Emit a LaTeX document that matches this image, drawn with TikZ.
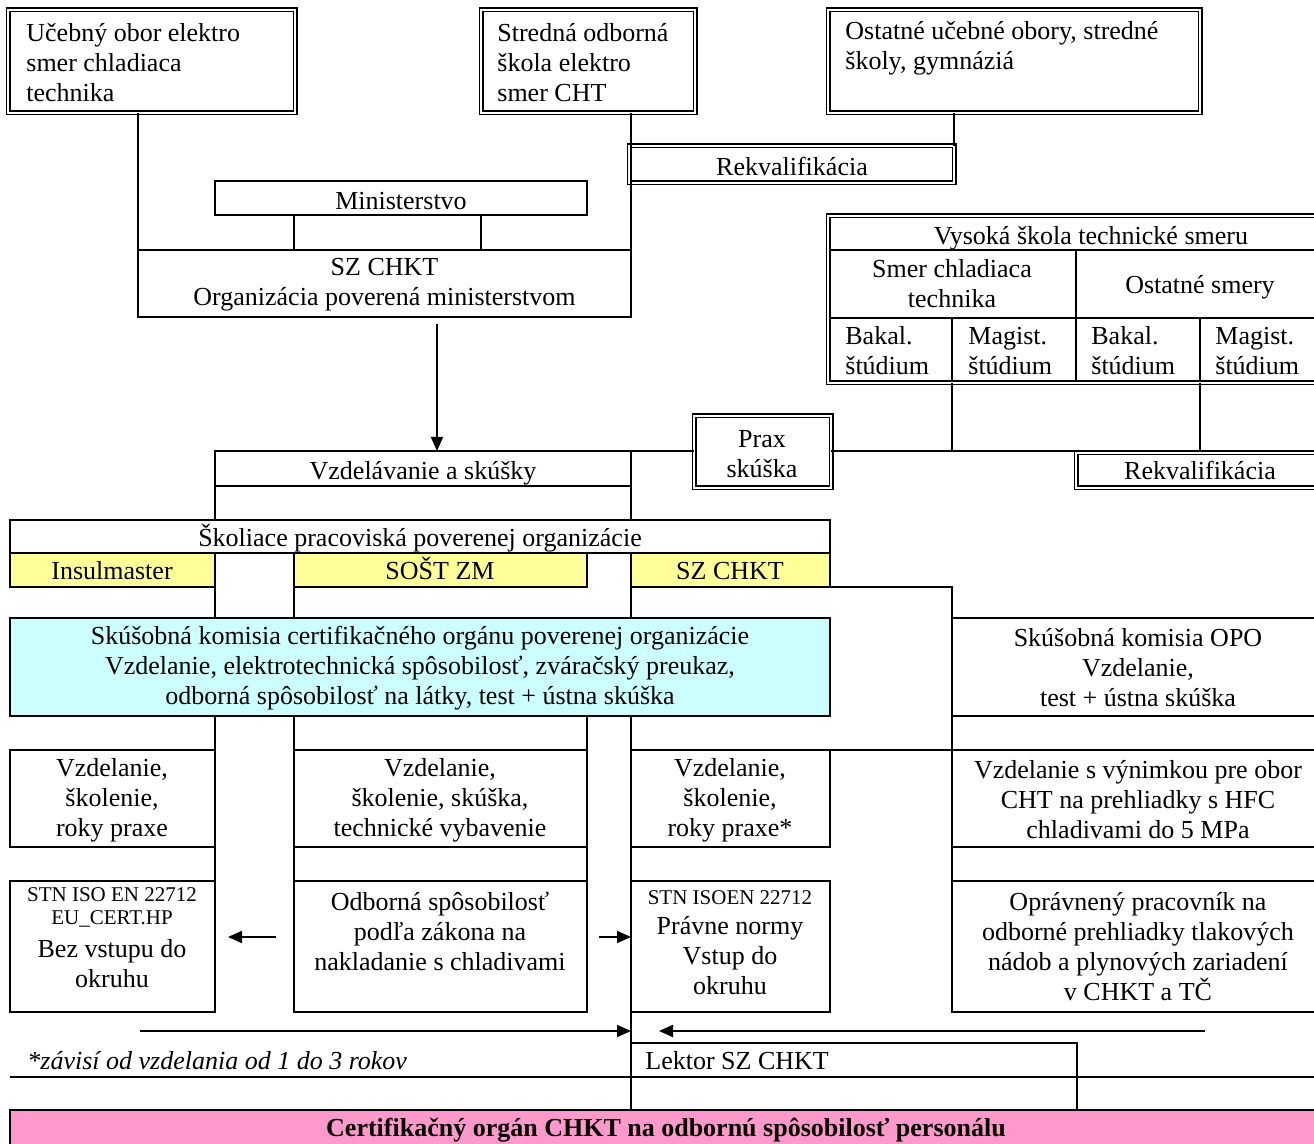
\documentclass[tikz,border=0pt]{standalone}
\usepackage{fontspec}
\setmainfont{Liberation Serif}
\usetikzlibrary{arrows.meta,calc}
\definecolor{ylw}{RGB}{255,255,153}
\definecolor{cyn}{RGB}{204,255,255}
\definecolor{pnk}{RGB}{255,153,204}
\newcommand\bx[6][]{\node[box,#1,minimum width={(#5-#3)*0.5pt},minimum height={(#6-#4)*0.5pt}] (#2) at ({(#3+#5)/2},{(#4+#6)/2}) {};}
\tikzset{
  box/.style={draw, line width=0.9pt, inner sep=0pt, outer sep=0pt},
  dbl/.style={double=white, line width=0.8pt, double distance=0.9pt},
  txt/.style={inner sep=0pt, font=\fontsize{13}{15}\selectfont, align=center},
  sml/.style={inner sep=0pt, font=\fontsize{10.5}{11.5}\selectfont, align=center},
  ln/.style={text height=10.5pt, text depth=0.8pt},
  conn/.style={line width=0.9pt},
  arr/.style={line width=1pt, -{Triangle[length=7pt,width=6pt]}},
}
\begin{document}
\begin{tikzpicture}[x=0.5pt,y=-0.5pt]
\useasboundingbox (0,0) rectangle (1314,1144);
\clip (0,0) rectangle (1314,1144);
\fill[white] (0,0) rectangle (1314,1144);

% top row
\bx[dbl]{b1}{8}{10}{295}{113}
\node[txt,align=left,anchor=west] (t1) at (26,63) {Učebný obor elektro\\smer chladiaca\\technika};
\bx[dbl]{b2}{481}{10}{695}{113}
\node[txt,align=left,anchor=west] (t2) at (497,63) {Stredná odborná\\škola elektro\\smer CHT};
\bx[dbl]{b3}{828}{10}{1200}{113}
\node[txt,align=left,anchor=west] (t3) at (845,48) {Ostatné učebné obory, stredné\\školy, gymnáziá};

\bx[dbl]{rek1}{629}{146}{954}{183}
\node[txt,ln] (t4) at (792,166) {Rekvalifikácia};
\bx{min}{215}{181}{587}{215}
\node[txt,ln] (t5) at (401,200) {Ministerstvo};
\bx{sz}{138}{250}{631}{317}
\node[txt] (t6) at (384.5,285) {SZ CHKT\\Organizácia poverená ministerstvom};

% university table
\bx{vt}{828}{216}{1324}{250}
\bx{vsc}{828}{250}{1076}{318}
\bx{vos}{1076}{250}{1324}{318}
\bx{c1}{828}{318}{952}{383}
\bx{c2}{952}{318}{1076}{383}
\bx{c3}{1076}{318}{1200}{383}
\bx{c4}{1200}{318}{1324}{383}
\bx[dbl]{vs}{828}{216}{1324}{383}
\node[txt,ln] (t7) at (1091,235) {Vysoká škola technické smeru};
\node[txt] (t8) at (952,284) {Smer chladiaca\\technika};
\node[txt,ln] (t9) at (1200,284) {Ostatné smery};
\node[txt,align=left,anchor=west] (t10) at (845,351) {Bakal.\\štúdium};
\node[txt,align=left,anchor=west] (t11) at (968,351) {Magist.\\štúdium};
\node[txt,align=left,anchor=west] (t12) at (1091,351) {Bakal.\\štúdium};
\node[txt,align=left,anchor=west] (t13) at (1215,351) {Magist.\\štúdium};

% middle
\bx{vzd}{215}{451}{631}{486}
\node[txt,ln] (t14) at (423,470) {Vzdelávanie a skúšky};
\bx[dbl]{prax}{694}{416}{831}{488}
\node[txt] (t15) at (762,454) {Prax\\skúška};
\bx[dbl]{rek2}{1076}{453}{1324}{488}
\node[txt,ln] (t16) at (1200,470) {Rekvalifikácia};

\bx{sk}{10}{520}{830}{553}
\node[txt,ln] (t17) at (420,537) {Školiace pracoviská poverenej organizácie};
\bx[fill=ylw]{ins}{10}{553}{215}{587}
\node[txt,ln] (t18) at (112,570) {Insulmaster};
\bx[fill=ylw]{sost}{294}{553}{587}{587}
\node[txt,ln] (t19) at (440,570) {SOŠT ZM};
\bx[fill=ylw]{szy}{631}{553}{830}{587}
\node[txt,ln] (t20) at (730,570) {SZ CHKT};

\bx[fill=cyn]{kom}{10}{618}{830}{716}
\node[txt] (t21) at (420,668) {Skúšobná komisia certifikačného orgánu poverenej organizácie\\Vzdelanie, elektrotechnická spôsobilosť, zváračský preukaz,\\odborná spôsobilosť na látky, test + ústna skúška};
\bx{opo}{952}{618}{1324}{716}
\node[txt] (t22) at (1138,668) {Skúšobná komisia OPO\\Vzdelanie,\\test + ústna skúška};

\bx{lb1}{10}{750}{215}{847}
\node[txt] (t23) at (112,800) {Vzdelanie,\\školenie,\\roky praxe};
\bx{mb}{294}{750}{587}{847}
\node[txt] (t24) at (440,800) {Vzdelanie,\\školenie, skúška,\\technické vybavenie};
\bx{cb}{631}{750}{830}{847}
\node[txt] (t25) at (730,800) {Vzdelanie,\\školenie,\\roky praxe*};
\bx{rb}{952}{750}{1324}{847}
\node[txt] (t26) at (1138,800) {Vzdelanie s výnimkou pre obor\\CHT na prehliadky s HFC\\chladivami do 5 MPa};

\bx{lc}{10}{881}{215}{1012}
\node[sml] (t27) at (112,907) {STN ISO EN 22712\\EU\_CERT.HP};
\node[txt] (t28) at (112,964) {Bez vstupu do\\okruhu};
\bx{mc}{294}{881}{587}{1012}
\node[txt] (t29) at (440,931) {Odborná spôsobilosť\\podľa zákona na\\nakladanie s chladivami};
\bx{cc}{631}{881}{830}{1012}
\node[sml,ln] (t30) at (730,895) {STN ISOEN 22712};
\node[txt] (t31) at (730,955.5) {Právne normy\\Vstup do\\okruhu};
\bx{rc}{952}{881}{1324}{1012}
\node[txt] (t32) at (1138,946.5) {Oprávnený pracovník na\\odborné prehliadky tlakových\\nádob a plynových zariadení\\v CHKT a TČ};

% bottom
\bx{lek}{631}{1043}{1077}{1077}
\node[txt,ln,anchor=west] (t33) at (645,1060) {Lektor SZ CHKT};
\node[txt,ln,anchor=west,font=\fontsize{13}{15}\selectfont\itshape] (t34) at (27,1060) {*závisí od vzdelania od 1 do 3 rokov};
\bx[fill=pnk]{cert}{10}{1110}{1324}{1170}
\node[txt,ln,font=\fontsize{13}{15}\selectfont\bfseries] (t35) at (666,1127) {Certifikačný orgán CHKT na odbornú spôsobilosť personálu};

% connectors
\draw[conn] (sz.north west |- b1.south) -- (sz.north west);
\draw[conn] (sz.north east |- b2.south) -- (sz.north east);
\draw[conn] (rek1.north east |- b3.south) -- (rek1.north east);
\draw[conn] (sost.west |- min.south) -- (sost.west |- sz.north);
\draw[conn] (b2.west |- min.south) -- (b2.west |- sz.north);
\coordinate (a1) at (437,324);
\draw[arr] (a1) -- (a1 |- vzd.north);
\draw[conn] (c2.south west) -- (c2.south west |- vzd.north);
\draw[conn] (c4.south west) -- (c4.south west |- vzd.north);
\draw[conn] (prax.east |- vzd.north) -- (vs.east |- vzd.north);
\draw[conn] (vzd.north east) -- (vzd.north east -| prax.west);
\draw[conn] (vzd.south east) -- (vzd.south east |- sk.north);
\draw[conn] (szy.south west) -- (szy.south west |- kom.north);
\draw[conn] (cb.north west |- kom.south) -- (cb.north west);
\draw[conn] (cb.south west) -- (cc.north west);
\draw[conn] (cc.south west) -- (cc.south west |- lek.north);
\draw[conn] (lek.south west) -- (lek.south west |- cert.north);
\draw[conn] (vzd.south west) -- (vzd.south west |- sk.north);
\draw[conn] (ins.south east) -- (ins.south east |- kom.north);
\draw[conn] (sost.south west) -- (sost.south west |- kom.north);
\draw[conn] (szy.south east) -- (szy.south east -| opo.west) -- (opo.north west);
\draw[conn] (lb1.north east |- kom.south) -- (lb1.north east);
\draw[conn] (lb1.south east) -- (lb1.south east |- lc.north);
\draw[conn] (mb.north west |- kom.south) -- (mb.north west);
\draw[conn] (mb.south west) -- (mb.south west |- mc.north);
\draw[conn] (mb.north east |- kom.south) -- (mb.north east);
\draw[conn] (mb.south east) -- (mb.south east |- mc.north);
\draw[conn] (opo.south west) -- (rb.north west);
\draw[conn] (rb.south west) -- (rc.north west);
\draw[conn] (cb.north east) -- (rb.north west);
\draw[arr, shorten <=9pt, shorten >=6.5pt] ($(mc.west)+(0,-9.5)$) -- ($(lc.east)+(0,-9.5)$);
\draw[arr, shorten <=6pt] ($(mc.east)+(0,-9.5)$) -- ($(cc.west)+(0,-9.5)$);
\coordinate (f1) at (140,1031);
\coordinate (f2) at (1205,1031);
\draw[arr] (f1) -- (f1 -| cc.west);
\draw[arr] (f2) -- ($(f2 -| cc.west)+(28,0)$);
\draw[conn] (cert.west |- lek.south) -- (vs.east |- lek.south);
\draw[conn] (lek.south east) -- (lek.south east |- cert.north);
\end{tikzpicture}
\end{document}
